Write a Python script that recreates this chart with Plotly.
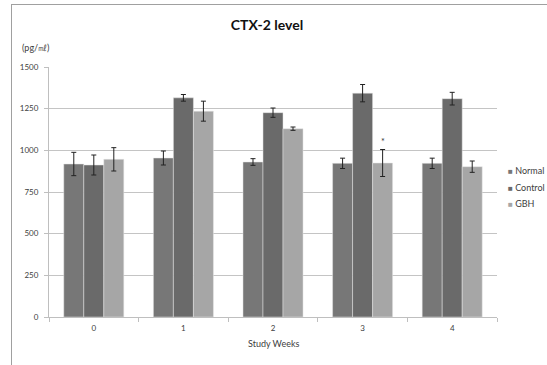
import plotly.graph_objects as go

weeks = ["0", "1", "2", "3", "4"]
normal = [918, 954, 930, 922, 922]
normal_err = [70, 42, 20, 31, 31]
control = [912, 1315, 1226, 1343, 1310]
control_err = [60, 20, 28, 52, 38]
gbh = [946, 1235, 1130, 924, 902]
gbh_err = [70, 60, 10, 81, 34]
gbh_sig = ["", "", "", "*", ""]

series_names = ["Normal", "Control", "GBH"]
series_colors = ["#777777", "#6a6a6a", "#a6a6a6"]
y_ticks = [0, 250, 500, 750, 1000, 1250, 1500]

FONT = "Lato, 'Liberation Sans', sans-serif"

fig = go.Figure()
for name, vals, errs, col in zip(series_names, [normal, control, gbh],
                                 [normal_err, control_err, gbh_err], series_colors):
    fig.add_trace(go.Bar(
        x=weeks, y=vals, name=name,
        marker=dict(color=col, line=dict(color="#e6e6e6", width=0.5)),
        error_y=dict(type="data", array=errs, visible=True,
                     color="#222222", thickness=1, width=2.5),
        showlegend=False,
    ))

annotations = []
# significance marks above GBH error bars
for w, v, e, s in zip(weeks, gbh, gbh_err, gbh_sig):
    if s:
        annotations.append(dict(x=w, y=v + e, xref="x", yref="y", text=s,
                                showarrow=False, xshift=20, yshift=8,
                                font=dict(size=9, color="#333333", family=FONT)))

# legend as text
legend_y = [170, 187, 203]
for name, col, py in zip(series_names, series_colors, legend_y):
    annotations.append(dict(
        x=(506 - 49) / 448, y=(317 - py) / 250, xref="paper", yref="paper",
        xanchor="left", yanchor="middle", showarrow=False,
        text=f"<span style='color:{col};font-size:8px'>■</span> {name}",
        font=dict(size=9, color="#404040", family=FONT)))

# y unit label
annotations.append(dict(x=(20 - 49) / 448, y=(317 - 48) / 250, xref="paper", yref="paper",
                        xanchor="left", yanchor="middle", showarrow=False,
                        text="(pg/㎖)", font=dict(size=9, color="#404040", family=FONT)))
# x axis title
annotations.append(dict(x=(273 - 49) / 448, y=(317 - 343) / 250, xref="paper", yref="paper",
                        xanchor="center", yanchor="middle", showarrow=False,
                        text="Study Weeks", font=dict(size=9, color="#404040", family=FONT)))

shapes = [
    dict(type="line", xref="paper", yref="paper",
         x0=(11 - 49) / 448, x1=(560 - 49) / 448, y0=(317 - 4.5) / 250, y1=(317 - 4.5) / 250,
         line=dict(color="#a0a0a0", width=1)),
    dict(type="line", xref="paper", yref="paper",
         x0=(11.5 - 49) / 448, x1=(11.5 - 49) / 448, y0=(317 - 4) / 250, y1=(317 - 380) / 250,
         line=dict(color="#a0a0a0", width=1)),
]

fig.update_layout(
    width=547, height=365,
    margin=dict(l=49, r=50, t=67, b=48),
    paper_bgcolor="white", plot_bgcolor="white",
    barmode="group", bargap=0.33, bargroupgap=0,
    title=dict(text="<b>CTX-2 level</b>", x=(267) / 547, xanchor="center",
               y=1 - 25 / 365, yanchor="middle",
               font=dict(size=14, color="#111111", family=FONT)),
    xaxis=dict(type="category", showline=True, linecolor="#bfbfbf", linewidth=1,
               ticks="outside", ticklen=4, tickcolor="#bfbfbf", tickson="boundaries",
               ticklabelstandoff=3,
               tickfont=dict(size=8, color="#404040", family=FONT),
               showgrid=False),
    yaxis=dict(range=[0, 1500], tickvals=y_ticks, showline=True, linecolor="#bfbfbf",
               linewidth=1, ticks="outside", ticklen=4, tickcolor="#bfbfbf",
               ticklabelstandoff=4,
               gridcolor="#c4c4c4", gridwidth=1, zeroline=False,
               tickfont=dict(size=8, color="#404040", family=FONT)),
    annotations=annotations, shapes=shapes,
    showlegend=False,
)

fig.write_html("out.html")
